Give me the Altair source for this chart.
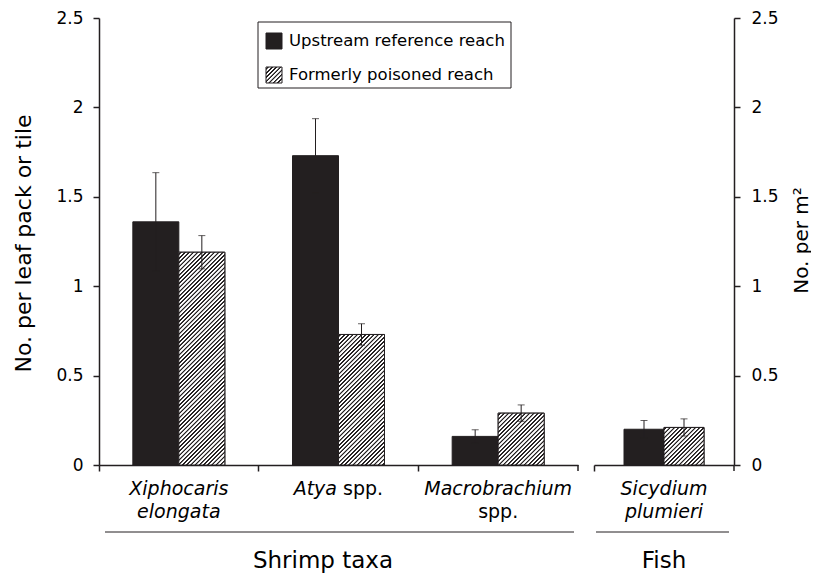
import altair as alt
import pandas as pd

# ---------------- data ----------------
shrimp_taxa = ["Xiphocaris elongata", "Atya spp.", "Macrobrachium spp."]
fish_taxa = ["Sicydium plumieri"]
series = ["Upstream reference reach", "Formerly poisoned reach"]
upstream_mean = [1.36, 1.73, 0.16, 0.20]
upstream_se = [0.275, 0.207, 0.037, 0.049]
poisoned_mean = [1.19, 0.73, 0.29, 0.21]
poisoned_se = [0.093, 0.06, 0.046, 0.048]
y_ticks = [0, 0.5, 1, 1.5, 2, 2.5]
group_titles = ["Shrimp taxa", "Fish"]
left_title = "No. per leaf pack or tile"
right_title = "No. per m²"
# label lines under each taxon: (text, italic)
label_lines = {
    "Xiphocaris elongata": [[("Xiphocaris", True)], [("elongata", True)]],
    "Atya spp.": [[("Atya", True), ("spp.", False)]],
    "Macrobrachium spp.": [[("Macrobrachium", True)], [("spp.", False)]],
    "Sicydium plumieri": [[("Sicydium", True)], [("plumieri", True)]],
}

# ---------------- styling ----------------
FONT = "DejaVu Sans"
INK = "#231f20"
H = 447
YMAX = 2.5

taxa = shrimp_taxa + fish_taxa
rows = []
for i, t in enumerate(taxa):
    rows.append(dict(taxon=t, series=series[0], mean=upstream_mean[i],
                     lo=upstream_mean[i] - upstream_se[i], hi=upstream_mean[i] + upstream_se[i]))
    rows.append(dict(taxon=t, series=series[1], mean=poisoned_mean[i],
                     lo=poisoned_mean[i] - poisoned_se[i], hi=poisoned_mean[i] + poisoned_se[i]))
df = pd.DataFrame(rows)


def hatch_gradient(w, h, period=4.2, dark=1.2, soft=0.6):
    L = w + h
    stops = [("white", 0.0)]
    pos = 1.0
    while pos + dark + 2 * soft < L:
        for off, c in [(pos, "white"), (pos + soft, INK), (pos + soft + dark, INK),
                       (pos + 2 * soft + dark, "white")]:
            stops.append((c, round(off / L, 5)))
        pos += period
    stops.append(("white", 1.0))
    t = L / (w * w + h * h)
    return alt.Gradient(gradient="linear", x1=0, y1=0, x2=t * w, y2=t * h,
                        stops=[alt.GradientStop(color=c, offset=o) for c, o in stops])


def panel(taxa_list, width, bar_w, yorient, group_title, group_x, with_legend):
    d = df[df.taxon.isin(taxa_list)]
    band = width / len(taxa_list)
    po = (band / bar_w - 2) / 2
    xscale = alt.Scale(domain=taxa_list, paddingInner=0, paddingOuter=0)
    x = alt.X("taxon:N", sort=taxa_list, scale=xscale,
              axis=alt.Axis(labels=False, title=None, bandPosition=0, tickSize=6,
                            tickWidth=1.5, tickColor=INK, domainColor=INK, domainWidth=1.5,
                            grid=False))
    xo = alt.XOffset("series:N", sort=series,
                     scale=alt.Scale(domain=series, paddingInner=0, paddingOuter=po))
    common = dict(values=y_ticks, format="~g", grid=False, tickSize=6, tickWidth=1.5,
                  tickColor=INK, domainColor=INK, domainWidth=1.5, labelFont=FONT,
                  labelFontSize=17, labelColor="black", titleFont=FONT,
                  titleFontWeight="normal", titleColor="black", titleAngle=270,
                  titleAlign="center", titleBaseline="middle")
    if yorient == "left":
        yaxis = alt.Axis(orient="left", labelPadding=10, title=left_title, titleFontSize=22,
                         titleX=-76, titleY=225, **common)
    else:
        yaxis = alt.Axis(orient="right", labelPadding=11, title=right_title, titleFontSize=20,
                         titleX=67, titleY=222, **common)
    y = alt.Y("mean:Q", scale=alt.Scale(domain=[0, YMAX], nice=False, zero=True), axis=yaxis)

    base = alt.Chart(d).mark_bar(stroke=INK, strokeWidth=1).encode(
        x=x, xOffset=xo, y=y,
        fill=alt.Fill("series:N", sort=series,
                      scale=alt.Scale(domain=series, range=[INK, "white"]), legend=None),
    )
    layers = [base]
    for t in taxa_list:
        row = d[(d.taxon == t) & (d.series == series[1])]
        h = float(row["mean"].iloc[0]) / YMAX * H
        layers.append(
            alt.Chart(row).mark_bar(fill=hatch_gradient(bar_w, h), stroke=INK, strokeWidth=1)
            .encode(x=x, xOffset=xo, y="mean:Q")
        )
    layers.append(alt.Chart(d).mark_rule(color=INK, strokeWidth=1).encode(
        x=x, xOffset=xo, y="lo:Q", y2="hi:Q"))
    layers.append(alt.Chart(d).mark_tick(color=INK, thickness=1, size=7, orient="horizontal")
                  .encode(x=x, xOffset=xo, y="hi:Q"))
    layers.append(alt.Chart(d).mark_tick(color=INK, thickness=1, size=7, orient="horizontal")
                  .encode(x=x, xOffset=xo, y="lo:Q"))
    # closing tick at the end of the axis segment
    layers.append(alt.Chart(pd.DataFrame({"taxon": [taxa_list[-1]]}))
                  .mark_rule(color=INK, strokeWidth=1.5)
                  .encode(x=alt.X("taxon:N", sort=taxa_list, bandPosition=1),
                          y=alt.value(H), y2=alt.value(H + 6)))
    # taxon labels
    lab_rows = []
    for t in taxa_list:
        for li, line in enumerate(label_lines[t]):
            if len(line) == 1:
                lab_rows.append(dict(taxon=t, line=li, text=line[0][0], italic=line[0][1], kind="c"))
            else:
                lab_rows.append(dict(taxon=t, line=li, text=line[0][0], italic=line[0][1], kind="r"))
                lab_rows.append(dict(taxon=t, line=li, text=line[1][0], italic=line[1][1], kind="l"))
    lab = pd.DataFrame(lab_rows)
    for (li, italic, kind), sub in lab.groupby(["line", "italic", "kind"]):
        align = {"c": "center", "r": "right", "l": "left"}[kind]
        dx = {"c": 0, "r": -1.5, "l": 4.5}[kind]
        layers.append(
            alt.Chart(sub).mark_text(font=FONT, fontSize=19, color="black",
                                     fontStyle="italic" if italic else "normal",
                                     align=align, baseline="alphabetic", dx=dx)
            .encode(x=alt.X("taxon:N", sort=taxa_list), y=alt.value(H + 30 + 23 * int(li)),
                    text="text:N")
        )
    # separator line and group title
    layers.append(alt.Chart(pd.DataFrame({"g": [group_title]})).mark_rule(color=INK, strokeWidth=1)
                  .encode(x=alt.value(6 if yorient == "left" else 2),
                          x2=alt.value(width - 4 if yorient == "left" else width - 5),
                          y=alt.value(H + 67)))
    layers.append(alt.Chart(pd.DataFrame({"g": [group_title]}))
                  .mark_text(font=FONT, fontSize=23, color="black", align="center",
                             baseline="alphabetic")
                  .encode(x=alt.value(group_x), y=alt.value(H + 103), text="g:N"))
    if with_legend:
        leg = pd.DataFrame({"series": series})
        # frame
        layers.append(alt.Chart(leg.head(1)).mark_rect(fill="white", stroke=INK, strokeWidth=1)
                      .encode(x=alt.value(159), x2=alt.value(412), y=alt.value(4), y2=alt.value(70)))
        # swatches
        layers.append(alt.Chart(leg.iloc[[0]]).mark_rect(fill=INK, stroke=INK, strokeWidth=1)
                      .encode(x=alt.value(167), x2=alt.value(183), y=alt.value(15), y2=alt.value(31)))
        layers.append(alt.Chart(leg.iloc[[1]]).mark_rect(fill=hatch_gradient(16, 16), stroke=INK,
                                                           strokeWidth=1)
                      .encode(x=alt.value(167), x2=alt.value(183), y=alt.value(49), y2=alt.value(65)))
        for i in range(2):
            layers.append(alt.Chart(leg.iloc[[i]])
                          .mark_text(font=FONT, fontSize=16.5, color="black", align="left",
                                     baseline="middle")
                          .encode(x=alt.value(190), y=alt.value(23 + 34 * i), text="series:N"))
    return alt.layer(*layers).properties(width=width, height=H)


left = panel(shrimp_taxa, 479, 46, "left", group_titles[0], 224, True)
right = panel(fish_taxa, 140, 40, "right", group_titles[1], 70, False)

chart = (
    alt.hconcat(left, right, spacing=14)
    .resolve_scale(fill="independent", xOffset="independent")
    .configure_view(stroke=None)
    .properties(padding={"left": 4, "top": 1, "right": 0, "bottom": 0})
)

chart.save("out.html", embed_options={"renderer": "svg", "actions": False})
